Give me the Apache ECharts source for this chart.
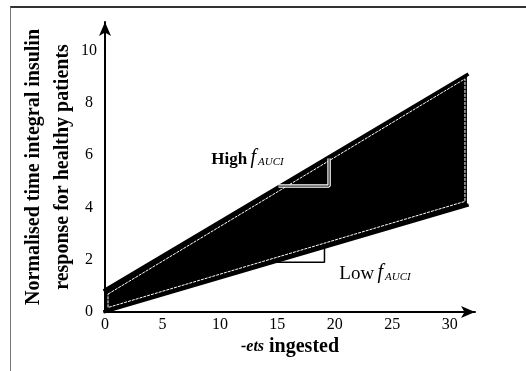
<!DOCTYPE html>
<html>
<head>
<meta charset="utf-8">
<script src="https://cdn.jsdelivr.net/npm/echarts@6/dist/echarts.min.js"></script>
<style>
    body{margin:0;background:#fff;}
    #chart{width:526px;height:371px;position:relative;}
    .frame{position:absolute;left:10px;top:6px;width:516px;height:365px;
        border-left:1px solid #777;border-top:2px solid #333;pointer-events:none;}
</style>
</head>
<body>
<div id="chart"></div>
<div class="frame"></div>
<script>
    // 数据
    const xEnds = [0, 31.5];
    const upperLine = [0.84, 9.08];
    const lowerLine = [0.02, 4.08];
    const highTriX = [15.1, 19.5, 19.5];
    const highTriY = [4.82, 4.82, 5.88];
    const lowTriX = [14.7, 19.1, 19.1];
    const lowTriY = [1.9, 1.9, 2.45];
    const notes = [
        {name: 'high', value: [12.4, 5.94]},
        {name: 'low', value: [23.5, 1.53]}
    ];
    const xTicks = [0, 5, 10, 15, 20, 25, 30];
    const yTicks = [0, 2, 4, 6, 8, 10];

    const serif = '"Liberation Serif", "DejaVu Serif", serif';
    let myChart = echarts.init(document.getElementById('chart'));

    function pairs(xs, ys){
        return xs.map((x, i) => [x, ys[i]]);
    }

    myChart.setOption({
        animation: false,
        grid: {left: 105, right: 51, top: 22, bottom: 59},
        xAxis: {
            type: 'value', min: 0, max: 32.2, interval: 5,
            name: '{g|-ets} ingested',
            nameLocation: 'middle', nameGap: 25, nameMoveOverlap: false,
            nameTextStyle: {fontFamily: serif, fontSize: 20, fontWeight: 'bold', color: '#000',
                rich: {g: {fontFamily: serif, fontSize: 16, fontStyle: 'italic', fontWeight: 'bold', color: '#000'}}},
            axisLine: {lineStyle: {color: '#000', width: 2}, symbol: ['none', 'arrow'], symbolSize: [9, 14]},
            axisTick: {show: false},
            splitLine: {show: false},
            axisLabel: {fontFamily: serif, fontSize: 16, color: '#000', margin: 5, showMaxLabel: false,
                formatter: v => xTicks.indexOf(v) >= 0 ? String(v) : ''}
        },
        yAxis: {
            type: 'value', min: 0, max: 11.1, interval: 2,
            name: 'Normalised time integral insulin\nresponse for healthy patients',
            nameLocation: 'middle', nameGap: 28, nameMoveOverlap: false,
            nameTextStyle: {fontFamily: serif, fontSize: 20, fontWeight: 'bold', color: '#000', lineHeight: 29},
            axisLine: {lineStyle: {color: '#000', width: 2}, symbol: ['none', 'arrow'], symbolSize: [9, 14]},
            axisTick: {show: false},
            splitLine: {show: false},
            axisLabel: {fontFamily: serif, fontSize: 16, color: '#000', margin: 16, align: 'center', showMaxLabel: false,
                formatter: v => yTicks.indexOf(v) >= 0 ? String(v) : ''}
        },
        series: [
            {
                // 黑色区域
                type: 'custom',
                data: [[0, 0]],
                silent: true,
                renderItem: function(params, api){
                    const up = xEnds.map((x, i) => api.coord([x, upperLine[i]]));
                    const lo = xEnds.map((x, i) => api.coord([x, lowerLine[i]]));
                    const inset = [
                        [up[0][0] + 3, up[0][1] + 4], [up[1][0] - 2, up[1][1] + 4],
                        [lo[1][0] - 2, lo[1][1] - 4], [lo[0][0] + 3, lo[0][1] - 4]
                    ];
                    return {
                        type: 'group',
                        children: [
                            {type: 'polygon', shape: {points: [up[0], up[1], lo[1], lo[0]]}, style: {fill: '#000'}},
                            {type: 'polygon', shape: {points: inset},
                                style: {fill: null, stroke: '#fff', lineWidth: 1, lineDash: [3, 1]}}
                        ]
                    };
                }
            },
            {
                type: 'line', data: pairs(xEnds, upperLine), symbol: 'none', silent: true,
                lineStyle: {color: '#000', width: 3.5, cap: 'square'}
            },
            {
                type: 'line', data: pairs(xEnds, lowerLine), symbol: 'none', silent: true,
                lineStyle: {color: '#000', width: 3.5, cap: 'square'}
            },
            {
                type: 'line', data: pairs(highTriX, highTriY), symbol: 'none', silent: true,
                lineStyle: {color: '#fff', width: 3.5}
            },
            {
                type: 'line', data: pairs(highTriX, highTriY), symbol: 'none', silent: true,
                lineStyle: {color: '#000', width: 1}
            },
            {
                type: 'line', data: pairs(lowTriX, lowTriY), symbol: 'none', silent: true,
                lineStyle: {color: '#000', width: 1.5}
            },
            {
                type: 'scatter', data: notes, symbolSize: 0, silent: true,
                itemStyle: {opacity: 1},
                label: {
                    show: true, position: 'inside', opacity: 1,
                    formatter: p => p.name === 'high' ? '{b|High} {f|f}{s|AUCI}' : '{r|Low} {f|f}{s|AUCI}',
                    rich: {
                        b: {fontFamily: serif, fontSize: 17, fontWeight: 'bold', color: '#000', lineHeight: 22, verticalAlign: 'bottom'},
                        r: {fontFamily: serif, fontSize: 19, color: '#000', lineHeight: 22, verticalAlign: 'bottom'},
                        f: {fontFamily: serif, fontSize: 20, fontStyle: 'italic', color: '#000', lineHeight: 22, verticalAlign: 'bottom'},
                        s: {fontFamily: serif, fontSize: 11, fontStyle: 'italic', color: '#000', lineHeight: 22, verticalAlign: 'bottom', padding: [0, 0, 0, 2]}
                    }
                }
            }
        ]
    });
</script>
</body>
</html>
